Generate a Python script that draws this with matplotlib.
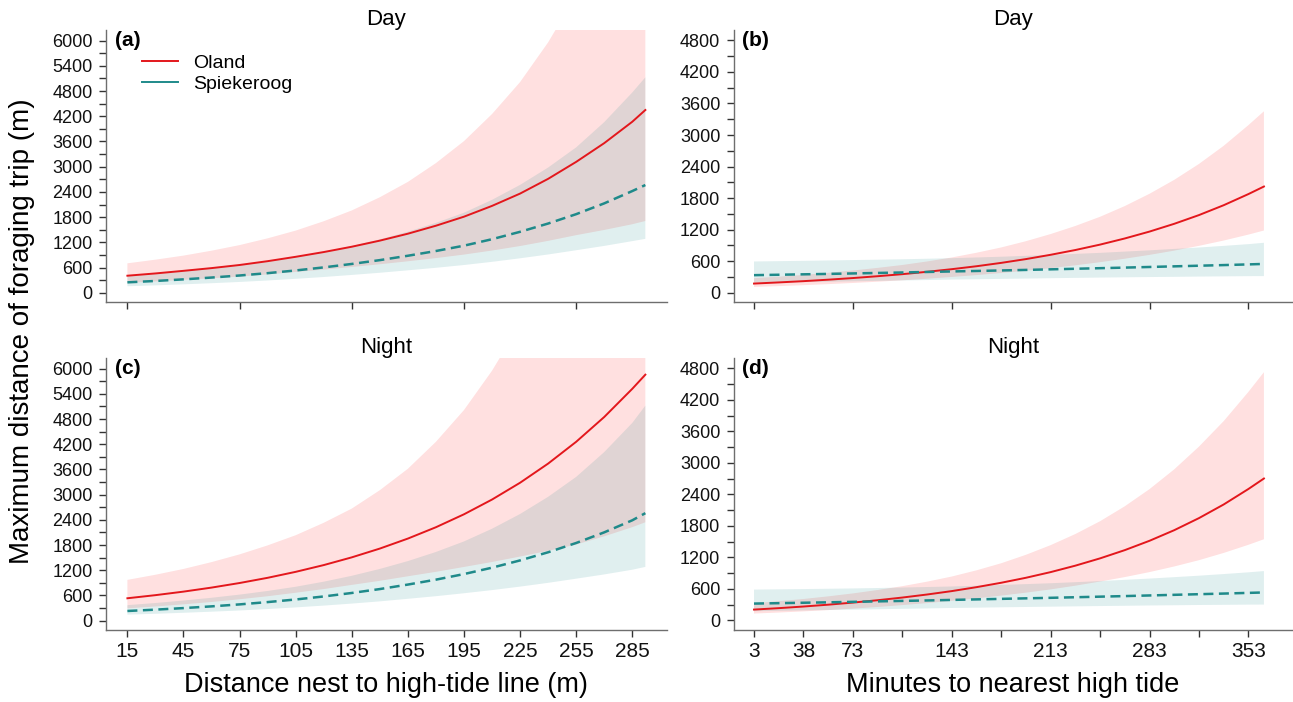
import matplotlib
matplotlib.use('Agg')
import matplotlib.pyplot as plt
from matplotlib.lines import Line2D

plt.rcParams['font.family'] = ['Liberation Sans', 'DejaVu Sans']

# distance to high-tide line (m)
dist_x = [15, 30, 45, 60, 75, 90, 105, 120, 135, 150, 165, 180, 195, 210, 225, 240, 255, 270, 285, 292]
# minutes to nearest high tide
tide_x = [3, 20.5, 38, 55.5, 73, 90.5, 108, 125.5, 143, 160.5, 178, 195.5, 213, 230.5, 248,
          265.5, 283, 300.5, 318, 335.5, 353, 364]

# (a) day, distance
a_oland = [405, 459, 521, 586, 660, 751, 855, 968, 1095, 1240, 1405, 1595, 1810, 2067, 2360,
           2711, 3115, 3561, 4070, 4350]
a_oland_hi = [700, 787, 884, 1001, 1134, 1295, 1479, 1702, 1959, 2273, 2638, 3086, 3609, 4254,
              5015, 5960, 7084, 8486, 10165, 11083]
a_oland_lo = [234, 268, 307, 343, 384, 436, 494, 550, 612, 677, 748, 824, 908, 1004, 1111,
              1234, 1370, 1494, 1630, 1707]
a_spiek = [247, 280, 318, 361, 410, 466, 530, 603, 685, 776, 880, 993, 1120, 1274, 1450,
           1647, 1870, 2127, 2420, 2564]
a_spiek_hi = [395, 448, 509, 578, 656, 746, 848, 970, 1110, 1270, 1452, 1663, 1904, 2211,
              2567, 2980, 3460, 4061, 4767, 5128]
a_spiek_lo = [154, 175, 199, 226, 256, 291, 331, 374, 423, 475, 533, 593, 659, 735, 819,
              910, 1011, 1114, 1228, 1282]

# (b) day, tide
b_oland = [171, 193, 217, 245, 276, 311, 350, 395, 445, 501, 565, 637, 719, 810, 913, 1030,
           1161, 1309, 1475, 1663, 1875, 2019]
b_oland_hi = [274, 303, 336, 376, 420, 470, 525, 592, 668, 758, 859, 978, 1114, 1268, 1443,
              1647, 1881, 2146, 2449, 2794, 3188, 3452]
b_oland_lo = [107, 122, 140, 160, 182, 206, 233, 263, 297, 332, 372, 415, 464, 518, 578, 644,
              717, 798, 889, 990, 1103, 1181]
b_spiek = [331, 339, 347, 355, 364, 373, 382, 392, 402, 411, 421, 431, 442, 453, 464, 475,
           487, 499, 511, 523, 536, 545]
b_spiek_hi = [592, 598, 604, 611, 619, 626, 634, 644, 655, 668, 682, 699, 716, 736, 756, 780,
              804, 831, 858, 889, 922, 948]
b_spiek_lo = [185, 192, 199, 206, 214, 222, 230, 238, 247, 253, 260, 266, 273, 279, 285, 290,
              295, 299, 304, 308, 312, 313]

# (c) night, distance
c_oland = [534, 608, 692, 788, 897, 1021, 1163, 1324, 1508, 1717, 1955, 2225, 2533, 2884,
           3284, 3740, 4259, 4849, 5520, 5857]
c_oland_hi = [972, 1094, 1232, 1395, 1579, 1793, 2035, 2331, 2669, 3107, 3617, 4259, 5015,
              5951, 7061, 8407, 10009, 11705, 13690, 14643]
c_oland_lo = [293, 338, 389, 445, 510, 582, 665, 753, 852, 949, 1057, 1163, 1279, 1397, 1527,
              1663, 1812, 2008, 2226, 2343]
c_spiek = [231, 263, 300, 341, 388, 443, 505, 577, 660, 753, 860, 977, 1110, 1262, 1435,
           1629, 1850, 2103, 2390, 2560]
c_spiek_hi = [370, 421, 480, 546, 621, 708, 808, 929, 1069, 1232, 1419, 1636, 1887, 2189,
              2540, 2949, 3423, 4014, 4708, 5120]
c_spiek_lo = [144, 164, 188, 214, 243, 277, 316, 359, 407, 460, 521, 583, 653, 728, 811, 901,
              1000, 1101, 1213, 1280]

# (d) night, tide
d_oland = [204, 231, 262, 297, 337, 382, 433, 491, 556, 631, 715, 810, 918, 1041, 1180, 1337,
           1515, 1717, 1947, 2207, 2502, 2702]
d_oland_hi = [326, 364, 406, 456, 512, 577, 650, 736, 834, 952, 1087, 1248, 1432, 1644, 1888,
              2173, 2500, 2877, 3310, 3796, 4353, 4729]
d_oland_lo = [128, 147, 169, 194, 222, 253, 289, 327, 371, 418, 470, 526, 588, 659, 738, 823,
              918, 1025, 1145, 1283, 1438, 1544]
d_spiek = [318, 326, 334, 342, 351, 360, 369, 378, 388, 398, 408, 418, 428, 439, 450, 461,
           473, 485, 497, 509, 522, 530]
d_spiek_hi = [585, 590, 595, 601, 607, 615, 624, 634, 644, 658, 673, 689, 706, 726, 747, 771,
              795, 822, 850, 881, 914, 938]
d_spiek_lo = [173, 180, 188, 195, 203, 210, 218, 226, 234, 240, 247, 253, 259, 265, 271, 276,
              282, 286, 291, 294, 298, 299]

dist_ticks_top = [15, 75, 135, 195, 255]
dist_ticks = [15, 45, 75, 105, 135, 165, 195, 225, 255, 285]
tide_ticks_top = [3, 73, 143, 213, 283, 353]
tide_ticks = [3, 38, 73, 108, 143, 178, 213, 248, 283, 318, 353]
tide_labels = ['3', '38', '73', '', '143', '', '213', '', '283', '', '353']

dist_yticks = list(range(0, 6001, 300))
tide_yticks = list(range(0, 4801, 300))

RED = '#e3171c'
TEAL = '#1f8a8a'
AXIS = '#6e6e6e'


def draw_panel(ax, x, oland, oland_lo, oland_hi, spiek, spiek_lo, spiek_hi,
               xlim, ylim, yticks, xticks, xlabels, tag, title):
    ax.fill_between(x, oland_lo, oland_hi, facecolor='red', alpha=0.12, linewidth=0)
    ax.fill_between(x, spiek_lo, spiek_hi, facecolor='teal', alpha=0.12, linewidth=0)
    ax.plot(x, oland, color=RED, lw=1.4)
    ax.plot(x, spiek, color=TEAL, lw=1.8, dashes=(4, 2.2))

    ax.set_xlim(*xlim)
    ax.set_ylim(*ylim)
    ax.set_yticks(yticks)
    ax.set_yticklabels([str(t) if t % 600 == 0 else '' for t in yticks])
    ax.set_xticks(xticks)
    if xlabels is None:
        ax.set_xticklabels([''] * len(xticks))
    else:
        ax.set_xticklabels(xlabels)

    for side in ['top', 'right']:
        ax.spines[side].set_visible(False)
    for side in ['left', 'bottom']:
        ax.spines[side].set_color(AXIS)
        ax.spines[side].set_linewidth(1.0)
    ax.tick_params(axis='y', direction='out', length=5, width=1, color='#333333',
                   labelsize=13, pad=4.5, labelcolor='#111111')
    ax.tick_params(axis='x', direction='out', length=5, width=1, color='#333333',
                   labelsize=15, pad=3.5, labelcolor='#111111')

    ax.text(0.016, 0.961, tag, transform=ax.transAxes, fontsize=15,
            fontweight='bold', ha='left', va='center')
    ax.set_title(title, fontsize=16, pad=0.5)


fig = plt.figure(figsize=(12.93, 7.02), dpi=100)
ax_a = fig.add_axes([0.0819, 0.5698, 0.4337, 0.3875])
ax_b = fig.add_axes([0.5673, 0.5698, 0.4325, 0.3875])
ax_c = fig.add_axes([0.0819, 0.1026, 0.4337, 0.3875])
ax_d = fig.add_axes([0.5673, 0.1026, 0.4325, 0.3875])

dist_xlim = (3.5, 303.4)
tide_xlim = (-11.5, 384.4)

draw_panel(ax_a, dist_x, a_oland, a_oland_lo, a_oland_hi, a_spiek, a_spiek_lo, a_spiek_hi,
           dist_xlim, (-221, 6255), dist_yticks, dist_ticks_top, None, '(a)', 'Day')
draw_panel(ax_b, tide_x, b_oland, b_oland_lo, b_oland_hi, b_spiek, b_spiek_lo, b_spiek_hi,
           tide_xlim, (-180, 5000), tide_yticks, tide_ticks_top, None, '(b)', 'Day')
draw_panel(ax_c, dist_x, c_oland, c_oland_lo, c_oland_hi, c_spiek, c_spiek_lo, c_spiek_hi,
           dist_xlim, (-221, 6255), dist_yticks, dist_ticks, [str(t) for t in dist_ticks],
           '(c)', 'Night')
draw_panel(ax_d, tide_x, d_oland, d_oland_lo, d_oland_hi, d_spiek, d_spiek_lo, d_spiek_hi,
           tide_xlim, (-185, 5000), tide_yticks, tide_ticks, tide_labels, '(d)', 'Night')

handles = [Line2D([], [], color=RED, lw=1.4), Line2D([], [], color=TEAL, lw=1.4)]
ax_a.legend(handles, ['Oland', 'Spiekeroog'], loc='upper left', bbox_to_anchor=(0.064, 0.912),
            frameon=False, fontsize=14, handlelength=1.85, handletextpad=0.8,
            labelspacing=0.2, borderpad=0, borderaxespad=0)

fig.text(0.017, 0.528, 'Maximum distance of foraging trip (m)', rotation=90,
         fontsize=20, ha='center', va='center')
fig.text(0.2988, 0.0242, 'Distance nest to high-tide line (m)', fontsize=19.5,
         ha='center', va='center')
fig.text(0.7835, 0.0242, 'Minutes to nearest high tide', fontsize=19.5,
         ha='center', va='center')

fig.savefig('out.png', dpi=100)
